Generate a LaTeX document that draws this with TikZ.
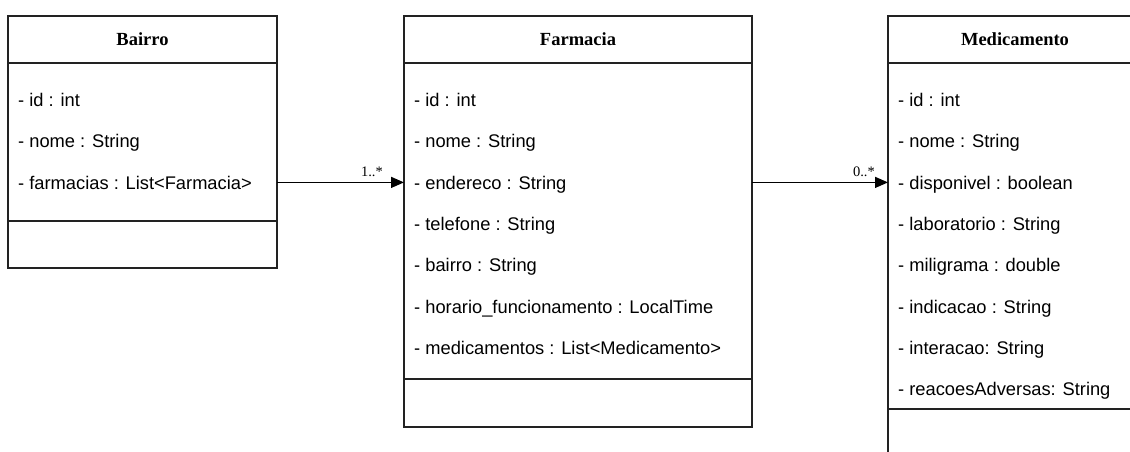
\documentclass[tikz,border=0pt]{standalone}
\usepackage{fontspec}
\setmainfont{Liberation Serif}
\setsansfont{Liberation Sans}
\usetikzlibrary{arrows.meta}

\definecolor{linecol}{RGB}{34,34,34}

\tikzset{
  classbox/.style={draw=linecol, line width=1.3pt, fill=white, anchor=north west,
                   inner sep=0pt, outer sep=0pt},
  sepline/.style={draw=linecol, line width=1.3pt},
  classtitle/.style={font=\fontsize{18.5}{22}\selectfont\rmfamily\bfseries,
                     anchor=base, inner sep=0pt},
  attr/.style={font=\fontsize{18.3}{22}\selectfont\sffamily, anchor=west,
               inner sep=0pt, text height=13.2pt, text depth=0pt},
  mult/.style={font=\fontsize{14.5}{16}\selectfont\rmfamily, anchor=base east,
               inner sep=0pt},
  assoc/.style={draw=black, line width=1.3pt, -{Triangle[length=13pt,width=11pt]}}
}

\begin{document}
\begin{tikzpicture}[x=1pt,y=-1pt]
  \useasboundingbox (0,0) rectangle (1130,451);
  \fill[white] (0,0) rectangle (1130,451);
  \clip (0,0) rectangle (1130,451);

  % ---------- Bairro ----------
  \node[classbox, minimum width=269pt, minimum height=252pt] (bairro) at (8,16) {};
  \draw[sepline] ([yshift=-47pt]bairro.north west) -- ([yshift=-47pt]bairro.north east);
  \draw[sepline] ([yshift=47pt]bairro.south west) -- ([yshift=47pt]bairro.south east);
  \node[classtitle] (bairroT) at (142.5,45) {Bairro};
  \node[attr] (b1) at (18,100)   {- id : int};
  \node[attr] (b2) at (18,141.3) {- nome : String};
  \node[attr] (b3) at (18,182.4) {- farmacias : List<Farmacia>};

  % ---------- Farmacia ----------
  \node[classbox, minimum width=348pt, minimum height=411pt] (farm) at (404,16) {};
  \draw[sepline] ([yshift=-47pt]farm.north west) -- ([yshift=-47pt]farm.north east);
  \draw[sepline] ([yshift=48pt]farm.south west) -- ([yshift=48pt]farm.south east);
  \node[classtitle] (farmT) at (578,45) {Farmacia};
  \node[attr] (f1) at (414,100)   {- id : int};
  \node[attr] (f2) at (414,141.3) {- nome : String};
  \node[attr] (f3) at (414,182.4) {- endereco : String};
  \node[attr] (f4) at (414,223.8) {- telefone : String};
  \node[attr] (f5) at (414,265.1) {- bairro : String};
  \node[attr] (f6) at (414,306.4) {- horario\_funcionamento : LocalTime};
  \node[attr] (f7) at (414,347.7) {- medicamentos : List<Medicamento>};

  % ---------- Medicamento ----------
  \node[classbox, minimum width=254pt, minimum height=440pt] (med) at (888,16) {};
  \draw[sepline] ([yshift=-47pt]med.north west) -- ([yshift=-47pt]med.north east);
  \draw[sepline] ([yshift=-393pt]med.north west) -- ([yshift=-393pt]med.north east);
  \node[classtitle] (medT) at (1015,45) {Medicamento};
  \node[attr] (m1) at (898,100)   {- id : int};
  \node[attr] (m2) at (898,141.3) {- nome : String};
  \node[attr] (m3) at (898,182.4) {- disponivel : boolean};
  \node[attr] (m4) at (898,223.8) {- laboratorio : String};
  \node[attr] (m5) at (898,265.1) {- miligrama : double};
  \node[attr] (m6) at (898,306.4) {- indicacao : String};
  \node[attr] (m7) at (898,347.7) {- interacao: String};
  \node[attr] (m8) at (898,389)   {- reacoesAdversas: String};

  % ---------- Associations ----------
  \draw[assoc] (bairro.east |- b3.west) -- (farm.west |- b3.west);
  \node[mult] (mult1) at ([xshift=-21pt,yshift=6pt]farm.west |- b3.west) {1..*};

  \draw[assoc] (farm.east |- m3.west) -- (med.west |- m3.west);
  \node[mult] (mult2) at ([xshift=-13pt,yshift=6pt]med.west |- m3.west) {0..*};
\end{tikzpicture}
\end{document}
